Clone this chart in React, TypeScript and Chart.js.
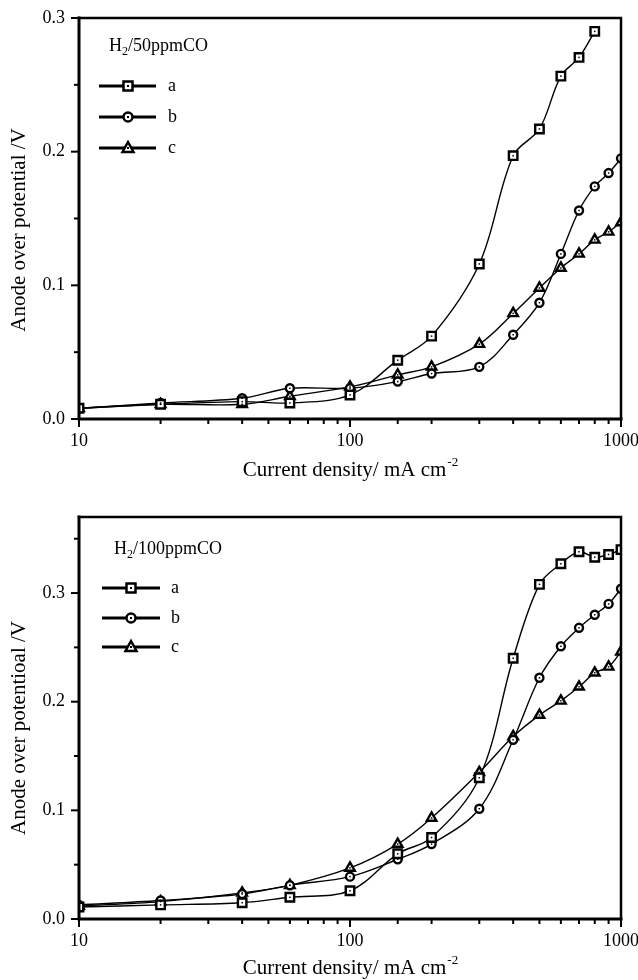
import React, { useEffect, useRef } from 'react';
import { Chart, registerables } from 'chart.js';

Chart.register(...registerables);

// ---------- DATA ----------
// Current density (mA cm-2)
const densityFull = [10, 20, 40, 60, 100, 150, 200, 300, 400, 500, 600, 700, 800, 900, 1000];
const densityTopA = [10, 20, 40, 60, 100, 150, 200, 300, 400, 500, 600, 700, 800];

// Top panel: H2/50ppmCO, anode over potential (V)
const top50A = [0.008, 0.011, 0.013, 0.012, 0.018, 0.044, 0.062, 0.116, 0.197, 0.217, 0.2565, 0.2705, 0.29];
const top50B = [0.008, 0.012, 0.0155, 0.023, 0.023, 0.028, 0.034, 0.039, 0.063, 0.087, 0.1235, 0.156, 0.174, 0.184, 0.195];
const top50C = [0.008, 0.011, 0.011, 0.017, 0.024, 0.033, 0.039, 0.056, 0.079, 0.098, 0.113, 0.1235, 0.134, 0.14, 0.147];

// Bottom panel: H2/100ppmCO
const bot100A = [0.011, 0.013, 0.015, 0.02, 0.026, 0.06, 0.075, 0.13, 0.24, 0.308, 0.327, 0.338, 0.333, 0.3355, 0.34];
const bot100B = [0.013, 0.017, 0.023, 0.031, 0.039, 0.055, 0.069, 0.1015, 0.165, 0.222, 0.251, 0.268, 0.28, 0.29, 0.304];
const bot100C = [0.012, 0.016, 0.024, 0.031, 0.047, 0.069, 0.093, 0.135, 0.168, 0.1877, 0.2008, 0.2137, 0.2266, 0.2321, 0.246];

const seriesLabels = ['a', 'b', 'c'];
const seriesStyles = ['rect', 'circle', 'triangle'];
const xTickLabels = [10, 100, 1000];
const xTitle = 'Current density/ mA cm';
const xTitleSup = '-2';

const FONT = '"Liberation Serif", "Times New Roman", Times, serif';

function toPoints(xs: number[], ys: number[]) {
  return ys.map((y, i) => ({ x: xs[i], y }));
}

function drawMarker(ctx: CanvasRenderingContext2D, style: string, x: number, y: number) {
  ctx.save();
  ctx.lineWidth = 2.5;
  ctx.strokeStyle = '#000';
  ctx.fillStyle = '#fff';
  ctx.beginPath();
  if (style === 'rect') {
    ctx.rect(x - 4.5, y - 4.5, 9, 9);
  } else if (style === 'circle') {
    ctx.arc(x, y, 4.5, 0, Math.PI * 2);
  } else {
    ctx.moveTo(x, y - 6);
    ctx.lineTo(x + 5.5, y + 4);
    ctx.lineTo(x - 5.5, y + 4);
    ctx.closePath();
  }
  ctx.fill();
  ctx.stroke();
  ctx.fillStyle = '#000';
  ctx.fillRect(x - 1, y - 1, 2, 2);
  ctx.restore();
}

const overlayPlugin = {
  id: 'overlay',
  afterDatasetsDraw(chart: any, _args: any, opts: any) {
    const ctx: CanvasRenderingContext2D = chart.ctx;
    const { left, right, top, bottom } = chart.chartArea;
    const xs = chart.scales.x;
    const ys = chart.scales.y;
    ctx.save();

    // center dots in markers
    ctx.fillStyle = '#000';
    chart.data.datasets.forEach((_d: any, i: number) => {
      const meta = chart.getDatasetMeta(i);
      meta.data.forEach((pt: any) => {
        if (pt.x <= right + 1) ctx.fillRect(pt.x - 0.75, pt.y - 0.75, 1.5, 1.5);
      });
    });

    // frame
    ctx.strokeStyle = '#000';
    ctx.lineCap = 'square';
    ctx.lineWidth = 2.5;
    ctx.beginPath();
    ctx.moveTo(left, top);
    ctx.lineTo(right, top);
    ctx.lineTo(right, bottom);
    ctx.stroke();
    ctx.lineWidth = 3;
    ctx.beginPath();
    ctx.moveTo(left, top);
    ctx.lineTo(left, bottom);
    ctx.lineTo(right, bottom);
    ctx.stroke();

    // x ticks
    ctx.lineCap = 'butt';
    ctx.lineWidth = 2;
    xs.ticks.forEach((t: any) => {
      const v = t.value;
      const lg = Math.log10(v);
      const major = Math.abs(lg - Math.round(lg)) < 1e-9;
      const px = xs.getPixelForValue(v);
      ctx.beginPath();
      ctx.moveTo(px, bottom);
      ctx.lineTo(px, bottom + (major ? 8 : 5));
      ctx.stroke();
    });
    // y ticks
    ys.ticks.forEach((t: any) => {
      const v = t.value;
      const r20 = v * 20;
      if (Math.abs(r20 - Math.round(r20)) > 1e-6) return;
      const major = Math.abs(v * 10 - Math.round(v * 10)) < 1e-6;
      const py = ys.getPixelForValue(v);
      ctx.beginPath();
      ctx.moveTo(left, py);
      ctx.lineTo(left - (major ? 8 : 5), py);
      ctx.stroke();
    });

    // x title with superscript
    ctx.fillStyle = '#000';
    ctx.textBaseline = 'middle';
    ctx.font = `21px ${FONT}`;
    const w1 = ctx.measureText(xTitle).width;
    ctx.font = `13px ${FONT}`;
    const w2 = ctx.measureText(xTitleSup).width;
    const cx = (left + right) / 2;
    const sx = cx - (w1 + w2) / 2;
    ctx.font = `21px ${FONT}`;
    ctx.textAlign = 'left';
    ctx.fillText(xTitle, sx, opts.xTitleY);
    ctx.font = `13px ${FONT}`;
    ctx.fillText(xTitleSup, sx + w1 + 1, opts.xTitleY - 7);

    // y title
    ctx.save();
    ctx.translate(opts.yTitleX, opts.yTitleY);
    ctx.rotate(-Math.PI / 2);
    ctx.font = `21px ${FONT}`;
    ctx.textAlign = 'center';
    ctx.textBaseline = 'middle';
    ctx.fillText(opts.yTitle, 0, 0);
    ctx.restore();

    // legend title H2/...
    ctx.textAlign = 'left';
    ctx.textBaseline = 'middle';
    ctx.font = `18px ${FONT}`;
    let lx = opts.legendTitleX;
    ctx.fillText('H', lx, opts.legendTitleY);
    lx += ctx.measureText('H').width;
    ctx.font = `12px ${FONT}`;
    ctx.fillText('2', lx, opts.legendTitleY + 6);
    lx += ctx.measureText('2').width;
    ctx.font = `18px ${FONT}`;
    ctx.fillText(opts.legendTitle, lx, opts.legendTitleY);

    // legend rows
    opts.rows.forEach((ry: number, i: number) => {
      ctx.strokeStyle = '#000';
      ctx.lineWidth = 3;
      ctx.beginPath();
      ctx.moveTo(opts.lineX1, ry);
      ctx.lineTo(opts.lineX2, ry);
      ctx.stroke();
      drawMarker(ctx, seriesStyles[i], opts.markerX, ry);
      ctx.fillStyle = '#000';
      ctx.font = `18px ${FONT}`;
      ctx.textAlign = 'left';
      ctx.textBaseline = 'middle';
      ctx.fillText(seriesLabels[i], opts.labelX, ry);
    });

    ctx.restore();
  },
};

function makeDataset(label: string, style: string, data: { x: number; y: number }[]) {
  return {
    label,
    data,
    borderColor: '#000',
    borderWidth: 1.4,
    backgroundColor: '#fff',
    pointStyle: style,
    pointRadius: style === 'rect' ? 6 : style === 'circle' ? 4 : 5.5,
    pointBorderWidth: 2.4,
    pointBorderColor: '#000',
    pointBackgroundColor: '#fff',
    tension: 0.35,
    fill: false,
  };
}

function buildConfig(p: {
  datasets: any[];
  yMax: number;
  top: number;
  bottom: number;
  overlay: any;
}) {
  const H = 490;
  return {
    type: 'line',
    data: { datasets: p.datasets },
    options: {
      responsive: false,
      animation: false,
      events: [],
      layout: { padding: { left: 0, right: 638 - 621, top: p.top, bottom: 0 } },
      plugins: {
        legend: { display: false },
        tooltip: { enabled: false },
        overlay: p.overlay,
      },
      scales: {
        x: {
          type: 'logarithmic',
          min: 10,
          max: 1000,
          grid: { display: false, drawTicks: false },
          border: { display: false },
          ticks: {
            autoSkip: false,
            maxRotation: 0,
            padding: 11,
            color: '#000',
            font: { family: FONT, size: 18 },
            callback: (v: any) => (xTickLabels.includes(Number(v)) ? String(v) : ''),
          },
          afterFit: (s: any) => {
            s.height = H - p.bottom;
            s.paddingLeft = 0;
            s.paddingRight = 0;
          },
        },
        y: {
          type: 'linear',
          min: 0,
          max: p.yMax,
          grid: { display: false, drawTicks: false },
          border: { display: false },
          ticks: {
            stepSize: 0.05,
            autoSkip: false,
            padding: 14,
            color: '#000',
            font: { family: FONT, size: 18 },
            callback: (v: any) => {
              const n = Number(v);
              return Math.abs(n * 10 - Math.round(n * 10)) < 1e-6 ? n.toFixed(1) : '';
            },
          },
          afterFit: (s: any) => {
            s.width = 79;
            s.paddingTop = 0;
            s.paddingBottom = 0;
          },
        },
      },
    },
    plugins: [overlayPlugin],
  };
}

function ChartPanel({ config }: { config: any }) {
  const ref = useRef<HTMLCanvasElement | null>(null);
  useEffect(() => {
    if (!ref.current) return;
    const chart = new Chart(ref.current, config);
    return () => chart.destroy();
  }, [config]);
  return <canvas ref={ref} width={638} height={490} style={{ display: 'block', width: 638, height: 490 }} />;
}

const topConfig = buildConfig({
  datasets: [
    makeDataset('a', 'rect', toPoints(densityTopA, top50A)),
    makeDataset('b', 'circle', toPoints(densityFull, top50B)),
    makeDataset('c', 'triangle', toPoints(densityFull, top50C)),
  ],
  yMax: 0.3,
  top: 18,
  bottom: 419,
  overlay: {
    xTitleY: 470,
    yTitle: 'Anode over potential /V',
    yTitleX: 19,
    yTitleY: 230,
    legendTitle: '/50ppmCO',
    legendTitleX: 109,
    legendTitleY: 46,
    rows: [86, 117, 148],
    lineX1: 99,
    lineX2: 156,
    markerX: 128,
    labelX: 168,
  },
});

const bottomConfig = buildConfig({
  datasets: [
    makeDataset('a', 'rect', toPoints(densityFull, bot100A)),
    makeDataset('b', 'circle', toPoints(densityFull, bot100B)),
    makeDataset('c', 'triangle', toPoints(densityFull, bot100C)),
  ],
  yMax: 0.37,
  top: 27,
  bottom: 429,
  overlay: {
    xTitleY: 478,
    yTitle: 'Anode over potentioal /V',
    yTitleX: 19,
    yTitleY: 238,
    legendTitle: '/100ppmCO',
    legendTitleX: 114,
    legendTitleY: 59,
    rows: [98, 128, 157],
    lineX1: 102,
    lineX2: 160,
    markerX: 131,
    labelX: 171,
  },
});

export default function App() {
  return (
    <div style={{ position: 'absolute', left: 0, top: 0, width: 638, height: 980, background: '#fff' }}>
      <ChartPanel config={topConfig} />
      <ChartPanel config={bottomConfig} />
    </div>
  );
}
